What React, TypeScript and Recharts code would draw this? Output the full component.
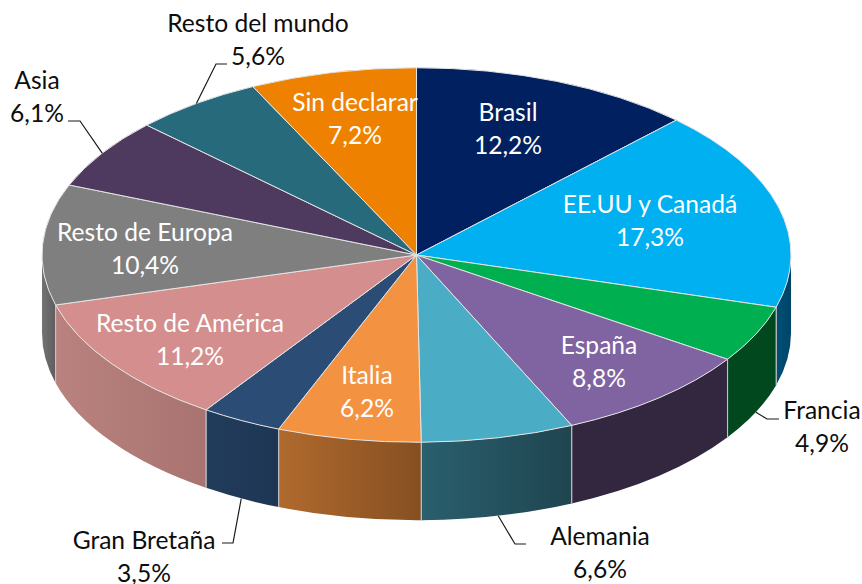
import React from "react";
import { PieChart, Pie } from "recharts";

const regions = ["Brasil", "EE.UU y Canadá", "Francia", "España", "Alemania", "Italia", "Gran Bretaña", "Resto de América", "Resto de Europa", "Asia", "Resto del mundo", "Sin declarar"];
const shares = [12.2, 17.3, 4.9, 8.8, 6.6, 6.2, 3.5, 11.2, 10.4, 6.1, 5.6, 7.2];

const topColors = ["#002060", "#00B0F0", "#00B050", "#8064A2", "#4BACC6", "#F39241", "#2A4C75", "#D58E8E", "#7F7F7F", "#4D3A5E", "#276A7C", "#EE8200"];
const wallLeft = ["#001030", "#005078", "#02481F", "#33273F", "#2A5F6E", "#B06A2E", "#223C5C", "#B9827F", "#737373", "#33273F", "#1E5060", "#9A5500"];
const wallRight = ["#001030", "#004468", "#02481F", "#33273F", "#1F4550", "#864F21", "#1E3654", "#A87370", "#5E5E5E", "#33273F", "#1E5060", "#9A5500"];

// text block centre and first baseline, plus leader elbow for outside labels
const labelSpots: Record<string, { x: number; y: number; outside?: boolean; elbow?: number[] }> = {
  "Brasil": { x: 508, y: 121 },
  "EE.UU y Canadá": { x: 650, y: 213 },
  "Francia": { x: 822, y: 419, outside: true, elbow: [767, 419, 779, 419] },
  "España": { x: 599, y: 354 },
  "Alemania": { x: 600, y: 545, outside: true, elbow: [515, 544, 526, 544] },
  "Italia": { x: 367, y: 384 },
  "Gran Bretaña": { x: 144, y: 549, outside: true, elbow: [233, 543, 222, 543] },
  "Resto de América": { x: 190, y: 332 },
  "Resto de Europa": { x: 145, y: 241 },
  "Asia": { x: 37, y: 89, outside: true, elbow: [80, 121, 68, 121] },
  "Resto del mundo": { x: 258, y: 32, outside: true, elbow: [216, 64, 227, 64] },
  "Sin declarar": { x: 355, y: 111 },
};

const chartData = regions.map((name, i) => ({ name, value: shares[i] }));

const SQUASH = 0.5;
const DEPTH = 78;
const FONT = "Lato, 'Open Sans', sans-serif";
const FONT_SIZE = 24.6;
const LINE_HEIGHT = 32.5;

const rad = (deg: number) => (deg * Math.PI) / 180;

const EllipseSlice = (props: any) => {
  const { cx, cy, outerRadius, startAngle, endAngle, index } = props;
  const rx = outerRadius;
  const ry = outerRadius * SQUASH;
  const pt = (a: number, drop = 0) => [cx + rx * Math.cos(rad(a)), cy - ry * Math.sin(rad(a)) + drop];
  const [sx, sy] = pt(startAngle);
  const [ex, ey] = pt(endAngle);
  const large = Math.abs(startAngle - endAngle) > 180 ? 1 : 0;
  const top = `M${cx},${cy} L${sx},${sy} A${rx},${ry} 0 ${large} 1 ${ex},${ey} Z`;

  // front of the cake only: angles -180..0
  const wallStart = Math.min(startAngle, 0);
  const wallEnd = Math.max(endAngle, -180);
  const hasWall = wallStart > wallEnd;
  const gradId = `wall-${index}`;
  let wall = null;
  if (hasWall) {
    const [ax, ay] = pt(wallStart);
    const [bx, by] = pt(wallEnd);
    wall = (
      <>
        <defs>
          <linearGradient id={gradId} x1="0" y1="0" x2="1" y2="0">
            <stop offset="0%" stopColor={wallLeft[index]} />
            <stop offset="100%" stopColor={wallRight[index]} />
          </linearGradient>
        </defs>
        <path
          d={`M${ax},${ay} A${rx},${ry} 0 0 1 ${bx},${by} L${bx},${by + DEPTH} A${rx},${ry} 0 0 0 ${ax},${ay + DEPTH} Z`}
          fill={`url(#${gradId})`}
        />
        {wallStart === startAngle && <line x1={ax} y1={ay} x2={ax} y2={ay + DEPTH} stroke="#C8C8C8" strokeWidth={1} />}
        {wallEnd === endAngle && <line x1={bx} y1={by} x2={bx} y2={by + DEPTH} stroke="#C8C8C8" strokeWidth={1} />}
      </>
    );
  }
  return (
    <g>
      {wall}
      <path d={top} fill={topColors[index]} stroke="#E4E4E4" strokeWidth={1} strokeLinejoin="round" />
    </g>
  );
};

const SliceLabel = (props: any) => {
  const { cx, cy, outerRadius, midAngle, name, value } = props;
  const spot = labelSpots[name];
  if (!spot) return null;
  const color = spot.outside ? "#0D0D0D" : "#FFFFFF";
  let leader = null;
  if (spot.elbow) {
    const x0 = cx + outerRadius * Math.cos(rad(midAngle));
    const rawY = cy - outerRadius * SQUASH * Math.sin(rad(midAngle));
    const y0 = Math.sin(rad(midAngle)) < 0 ? rawY + DEPTH : rawY;
    const [x1, y1, x2, y2] = spot.elbow;
    leader = <polyline points={`${x0},${y0} ${x1},${y1} ${x2},${y2}`} fill="none" stroke="#1A1A1A" strokeWidth={1.2} />;
  }
  return (
    <g>
      {leader}
      <text x={spot.x} y={spot.y} textAnchor="middle" fill={color} fontFamily={FONT} fontSize={FONT_SIZE}>
        {name}
      </text>
      <text x={spot.x} y={spot.y + LINE_HEIGHT} textAnchor="middle" fill={color} fontFamily={FONT} fontSize={FONT_SIZE}>
        {value.toFixed(1).replace(".", ",")}%
      </text>
    </g>
  );
};

export default function App() {
  return (
    <div style={{ position: "absolute", left: 0, top: 0, width: 862, height: 584, background: "#fff", overflow: "hidden" }}>
      <PieChart width={862} height={584} margin={{ top: 0, right: 0, bottom: 0, left: 0 }}>
        <Pie
          data={chartData}
          dataKey="value"
          nameKey="name"
          cx={416.5}
          cy={255}
          innerRadius={0}
          outerRadius={374.5}
          startAngle={90}
          endAngle={-270}
          isAnimationActive={false}
          shape={EllipseSlice}
          label={SliceLabel}
          labelLine={false}
        />
      </PieChart>
    </div>
  );
}
